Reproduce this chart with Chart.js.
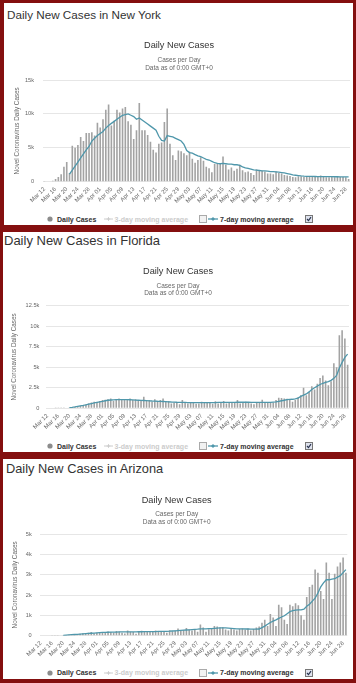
<!DOCTYPE html>
<html>
<head>
<meta charset="utf-8">
<script src="https://cdn.jsdelivr.net/npm/chart.js@4/dist/chart.umd.min.js"></script>
<style>
html,body{margin:0;padding:0;}
body{width:356px;height:683px;background:#840f0f;position:relative;overflow:hidden;font-family:"Liberation Sans",Arial,sans-serif;}
.panel{position:absolute;background:#fff;}
.ptitle{position:absolute;white-space:nowrap;color:#333;line-height:1;}
canvas{position:absolute;}
.leg{position:absolute;font-weight:bold;font-size:7px;line-height:7px;white-space:nowrap;color:#333;}
.sym{position:absolute;}
</style>
</head>
<body>
<div class="panel" style="left:4px;top:3px;width:349px;height:222px;"></div>
<div class="panel" style="left:3px;top:232px;width:350px;height:220px;"></div>
<div class="panel" style="left:3px;top:459px;width:350px;height:220px;"></div>

<div class="ptitle" style="left:7px;top:9px;font-size:11.7px;">Daily New Cases in New York</div>
<div class="ptitle" style="left:4px;top:234px;font-size:13px;">Daily New Cases in Florida</div>
<div class="ptitle" style="left:6px;top:462.5px;font-size:12.8px;">Daily New Cases in Arizona</div>

<canvas id="ny" width="348" height="176" style="left:8px;top:33px;"></canvas>
<canvas id="fl" width="348" height="178" style="left:7px;top:258px;"></canvas>
<canvas id="az" width="348" height="176" style="left:6px;top:486px;"></canvas>

<script>
// ---- categories (x axis) ----
const dates = ["Mar 12","Mar 13","Mar 14","Mar 15","Mar 16","Mar 17","Mar 18","Mar 19","Mar 20","Mar 21",
"Mar 22","Mar 23","Mar 24","Mar 25","Mar 26","Mar 27","Mar 28","Mar 29","Mar 30","Mar 31",
"Apr 01","Apr 02","Apr 03","Apr 04","Apr 05","Apr 06","Apr 07","Apr 08","Apr 09","Apr 10",
"Apr 11","Apr 12","Apr 13","Apr 14","Apr 15","Apr 16","Apr 17","Apr 18","Apr 19","Apr 20",
"Apr 21","Apr 22","Apr 23","Apr 24","Apr 25","Apr 26","Apr 27","Apr 28","Apr 29","Apr 30",
"May 01","May 02","May 03","May 04","May 05","May 06","May 07","May 08","May 09","May 10",
"May 11","May 12","May 13","May 14","May 15","May 16","May 17","May 18","May 19","May 20",
"May 21","May 22","May 23","May 24","May 25","May 26","May 27","May 28","May 29","May 30",
"May 31","Jun 01","Jun 02","Jun 03","Jun 04","Jun 05","Jun 06","Jun 07","Jun 08","Jun 09",
"Jun 10","Jun 11","Jun 12","Jun 13","Jun 14","Jun 15","Jun 16","Jun 17","Jun 18","Jun 19",
"Jun 20","Jun 21","Jun 22","Jun 23","Jun 24","Jun 25","Jun 26","Jun 27","Jun 28","Jun 29"];

// ---- New York ----
const nyDaily = [30,50,80,150,400,700,1100,2200,2900,1300,
5300,5000,5400,6600,6000,7200,7200,7300,6800,8700,
8000,9200,10600,11400,8300,9000,10600,10200,10800,11000,
8900,8400,6300,7600,11600,7600,7600,6900,5900,4700,
4300,5600,5800,8800,10800,5600,3900,3200,4600,4500,
4200,3900,4400,3400,2800,3200,3600,3100,2200,2000,
1400,2600,2700,2600,3700,2500,1800,2100,1600,1900,
2500,1700,1400,1500,1300,1000,1800,1700,1600,1500,
1200,1200,1100,1500,1300,1200,1000,900,850,700,
650,800,800,700,700,750,700,700,700,900,
700,650,650,700,650,700,700,700,650,400];
const nyAvg7 = [null,null,null,null,null,null,null,null,null,1100,
1700,2300,2900,3500,4100,4700,5200,6000,6400,6800,
7100,7400,7900,8300,8600,8900,9200,9500,9800,9900,
10000,9800,9600,9200,9400,9100,8800,8500,8200,7900,
7600,6700,6100,6000,6800,6700,6600,6400,6200,6000,
5500,4600,4300,4200,4000,3800,3700,3500,3300,3200,
3000,2800,2700,2650,2700,2650,2600,2600,2500,2500,
2400,2200,2050,1950,1850,1750,1700,1650,1600,1600,
1550,1500,1500,1450,1400,1350,1300,1200,1100,1000,
950,900,850,820,800,790,780,770,760,760,
760,750,740,740,730,730,720,720,710,700];
const nyTicks = [0,5000,10000,15000];

// ---- Florida ----
const flDaily = [0,0,0,20,30,40,50,60,100,150,
200,250,300,350,500,600,700,800,750,900,
1000,1050,1100,1200,900,1100,1200,1100,1050,1100,
1200,1000,1100,900,1000,1400,900,1000,800,1100,
900,1000,1200,800,900,600,700,750,500,1000,
700,600,750,700,550,600,800,650,700,750,
550,850,600,700,900,600,750,650,700,1000,
600,700,800,700,600,500,750,700,1050,650,
700,750,700,1000,1300,1250,1200,1150,1000,800,
1000,1350,1600,2500,1600,2000,2700,2300,3000,3700,
4000,3400,2800,3300,5500,5000,8900,9500,8500,5300];
const flAvg7 = [null,null,null,null,null,null,null,null,80,120,
170,230,290,350,420,500,580,650,720,790,
850,920,980,1010,1030,1050,1060,1060,1060,1050,
1040,1020,1000,980,960,950,930,910,890,880,
860,850,830,810,790,770,760,740,730,720,
710,700,700,690,690,690,690,690,700,700,
700,700,710,710,720,720,720,720,730,740,
740,740,740,740,730,720,720,720,730,720,
720,730,760,780,850,920,980,1050,1080,1100,
1150,1250,1450,1600,1750,2000,2300,2500,2700,2900,
3050,3150,3250,3400,3650,4000,4900,5600,6200,6600];
const flTicks = [0,2500,5000,7500,10000,12500];

// ---- Arizona ----
const azDaily = [0,0,0,0,5,10,15,20,30,40,
50,70,60,80,100,120,90,150,180,120,
150,170,140,160,210,180,140,230,200,150,
110,250,200,180,100,220,240,200,230,180,
200,250,220,230,200,150,270,220,260,360,
230,280,380,300,250,320,200,550,400,200,
320,350,480,450,400,420,300,250,340,310,
260,330,350,280,360,250,330,400,450,640,
780,480,1070,900,480,1520,1400,780,580,1520,
1450,1600,1500,1000,780,1900,2400,2500,3250,3100,
2200,1800,3600,3100,1800,3050,3400,3600,3850,3100];
const azAvg7 = [null,null,null,null,null,null,null,null,20,30,
40,50,60,70,80,90,100,110,120,130,
140,150,160,165,170,175,180,180,185,185,
185,190,190,190,190,195,195,200,200,200,
205,205,210,210,210,215,220,230,240,250,
260,270,280,290,300,310,320,340,340,340,
350,350,360,370,380,380,380,370,360,350,
340,340,340,330,330,320,320,320,330,400,
470,560,650,720,780,850,920,980,1080,1180,
1230,1260,1270,1270,1300,1450,1550,1700,1850,2100,
2400,2600,2750,2750,2780,2800,2880,2950,3100,3250];
const azTicks = [0,1000,2000,3000,4000,5000];

const chartTitle = 'Daily New Cases';
const chartSubtitle = ['Cases per Day', 'Data as of 0:00 GMT+0'];
const yAxisTitle = 'Novel Coronavirus Daily Cases';
const seriesNames = ['Daily Cases', '3-day moving average', '7-day moving average'];

Chart.defaults.font.family = '"Liberation Sans", Arial, Helvetica, sans-serif';

function kfmt(v){ return v === 0 ? '0' : (v/1000) + 'k'; }

function makeChart(id, daily, avg, ticks, L){
  const yMax = ticks[ticks.length-1];
  const step = ticks[1]-ticks[0];
  return new Chart(document.getElementById(id), {
    type: 'bar',
    data: {
      labels: dates,
      datasets: [
        {type:'line', label: seriesNames[2], data: avg, borderColor:'#4f97ab', borderWidth:1.3,
         pointRadius:0, tension:0, fill:false, order:0},
        {type:'bar', label: seriesNames[0], data: daily, backgroundColor:'#a3a3a3',
         categoryPercentage:1, barPercentage:0.58, order:1}
      ]
    },
    options: {
      responsive:false, animation:false, devicePixelRatio:1,
      layout:{padding:{left:0, right:L.padRight, top:0, bottom:0}},
      plugins:{
        legend:{display:false}, tooltip:{enabled:false},
        title:{display:true, text:chartTitle, color:'#333',
          font:{size:9.2, weight:'normal', lineHeight:1}, padding:{top:L.tTop, bottom:0}},
        subtitle:{display:true, text:chartSubtitle, color:'#666',
          font:{size:6.5, weight:'normal', lineHeight:1.15}, padding:{top:L.sTop, bottom:L.sBot}}
      },
      scales:{
        x:{
          grid:{display:false, drawTicks:false}, border:{display:false},
          ticks:{autoSkip:false, minRotation:45, maxRotation:45, padding:4, color:'#666',
            font:{size:6},
            callback:function(v, i){ return i % 4 === 0 ? this.getLabelForValue(v) : null; }},
          afterFit:function(s){ s.height = L.xH; }
        },
        y:{
          min:0, max:yMax,
          afterBuildTicks:function(s){ s.ticks = ticks.map(v => ({value:v})); },
          grid:{color:'#e6e6e6', lineWidth:1, drawTicks:false}, border:{display:false},
          ticks:{padding:L.yPad, color:'#666', font:{size:5.6}, stepSize:step, callback:v => kfmt(v)},
          title:{display:true, text:yAxisTitle, color:'#666', font:{size:6.3, lineHeight:1.2},
            padding:{top:L.yTitlePad, bottom:0}},
          afterFit:function(s){ s.width = L.yW; }
        }
      }
    }
  });
}

makeChart('ny', nyDaily, nyAvg7, nyTicks, {padRight:6, tTop:7.9, sTop:6.66, sBot:8.29, xH:27.3, yW:35, yPad:9, yTitlePad:5.7});
makeChart('fl', flDaily, flAvg7, flTicks, {padRight:6, tTop:8.4, sTop:6.86, sBot:8.29, xH:27.7, yW:39, yPad:6.7, yTitlePad:3.7});
makeChart('az', azDaily, azAvg7, azTicks, {padRight:6.7, tTop:9.4, sTop:6.36, sBot:8.09, xH:26.3, yW:33.5, yPad:7.8, yTitlePad:5.7});

// ---- legends (HTML) ----
function legend(cy){
  const add = (html) => { const d = document.createElement('div'); d.innerHTML = html; document.body.appendChild(d.firstChild); };
  const t = cy - 3.5;
  add(`<svg class="sym" style="left:47px;top:${cy-3}px" width="6" height="6"><circle cx="3" cy="3" r="2.6" fill="#8c8c8c"/></svg>`);
  add(`<div class="leg" style="left:57px;top:${t}px">${seriesNames[0]}</div>`);
  add(`<svg class="sym" style="left:104px;top:${cy-3}px" width="9" height="6"><line x1="0" y1="3" x2="9" y2="3" stroke="#cccccc" stroke-width="1"/><path d="M4.5 1.2 V4.8 M2.7 3 H6.3" stroke="#cccccc" stroke-width="1"/></svg>`);
  add(`<div class="leg" style="left:114.5px;top:${t}px;color:#cccccc">${seriesNames[1]}</div>`);
  add(`<svg class="sym" style="left:199px;top:${cy-4}px" width="8" height="8"><rect x="0.5" y="0.5" width="7" height="7" fill="#f2f2f2" stroke="#aaaaaa"/></svg>`);
  add(`<svg class="sym" style="left:208px;top:${cy-3}px" width="10" height="6"><line x1="0" y1="3" x2="10" y2="3" stroke="#4f97ab" stroke-width="1.3"/><path d="M5 1 L7 3 L5 5 L3 3 Z" fill="#4f97ab"/></svg>`);
  add(`<div class="leg" style="left:220px;top:${t}px">${seriesNames[2]}</div>`);
  add(`<svg class="sym" style="left:305px;top:${cy-4}px" width="8" height="8"><rect x="0.5" y="0.5" width="7" height="7" fill="#dfe3ee" stroke="#777"/><path d="M2 4 L3.5 5.6 L6 2.2" stroke="#2a3550" fill="none" stroke-width="1.2"/></svg>`);
}
legend(219);
legend(446);
legend(672.7);
</script>
</body>
</html>
